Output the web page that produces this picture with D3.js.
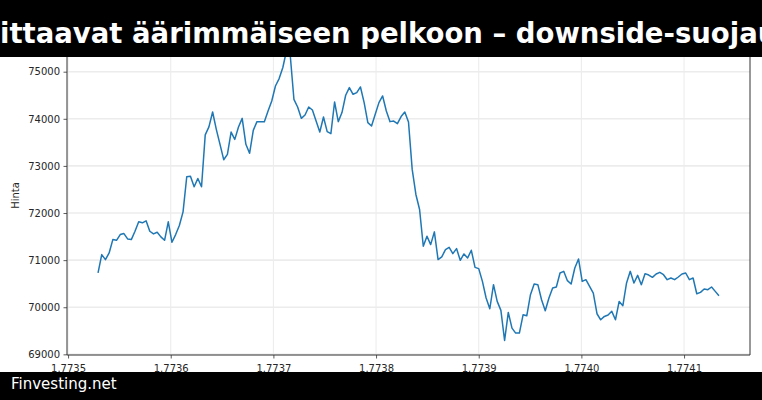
<!DOCTYPE html>
<html><head><meta charset="utf-8">
<script src="https://cdn.jsdelivr.net/npm/d3@7/dist/d3.min.js"></script>
<style>
body{margin:0;background:#fff;}
svg{display:block;font-family:"DejaVu Sans",sans-serif;}
</style>
</head><body>
<svg id="c" width="762" height="400"></svg>
<script>
// ---- data ----
const titleText = "Optiot viittaavat äärimmäiseen pelkoon – downside-suojaus kallistuu";
const titleHiddenPrefix = "Optiot vi";
const sourceText = "Finvesting.net";
const yLabel = "Hinta";
const startTime = 1773529200;   // seconds, hourly samples
const stepSeconds = 3600;
const prices = [
  70728,71117,71010,71153,71436,71421,71543,71564,71450,71436,
  71613,71813,71792,71834,71613,71557,71591,71494,71421,71813,
  71379,71543,71734,72025,72770,72783,72557,72734,72557,73660,
  73830,74145,73777,73458,73132,73245,73719,73564,73825,74010,
  73458,73267,73755,73940,73940,73940,74165,74378,74697,74854,
  75089,75450,75350,74414,74251,74010,74081,74251,74187,73953,
  73719,74038,73727,73685,74357,73940,74132,74500,74663,74521,
  74557,74676,74344,73919,73847,74096,74344,74485,74166,73940,
  73953,73898,74047,74145,73932,72926,72394,72075,71294,71507,
  71330,71600,71011,71068,71223,71272,71138,71245,70996,71132,
  71047,71209,70847,70819,70549,70196,69968,70479,70125,69934,
  69294,69889,69557,69451,69451,69840,69819,70266,70493,70479,
  70160,69926,70196,70408,70430,70727,70762,70564,70493,70833,
  71025,70549,70585,70443,70302,69862,69734,69805,69834,69913,
  69734,70124,70033,70515,70762,70515,70677,70479,70713,70684,
  70635,70706,70741,70691,70585,70621,70585,70642,70706,70727,
  70585,70621,70287,70316,70387,70372,70430,70337,70245
];
const xTickValues = [1.7735,1.7736,1.7737,1.7738,1.7739,1.7740,1.7741];
const xTickLabels = ["1.7735","1.7736","1.7737","1.7738","1.7739","1.7740","1.7741"];
const yTickValues = [69000,70000,71000,72000,73000,74000,75000];

// ---- build ----
const points = prices.map((p,i)=>({x:(startTime + i*stepSeconds)/1e9, y:p}));
const svg = d3.select("#c");
const L=67, R=750, T=36, B=355;

const xExt = d3.extent(points,d=>d.x), xr = xExt[1]-xExt[0];
const yExt = d3.extent(points,d=>d.y), yr = yExt[1]-yExt[0];
const x = d3.scaleLinear().domain([xExt[0]-0.05*xr, xExt[1]+0.05*xr]).range([L,R]);
const y = d3.scaleLinear().domain([yExt[0]-0.05*yr, yExt[1]+0.05*yr]).range([B,T]);

svg.append("rect").attr("width",762).attr("height",400).attr("fill","#fff");

// grid
const g = svg.append("g");
g.selectAll(".gx").data(xTickValues).enter().append("line")
  .attr("x1",d=>x(d)).attr("x2",d=>x(d)).attr("y1",T).attr("y2",B)
  .attr("stroke","#e6e6e6").attr("stroke-width",0.8);
g.selectAll(".gy").data(yTickValues).enter().append("line")
  .attr("x1",L).attr("x2",R).attr("y1",d=>y(d)).attr("y2",d=>y(d))
  .attr("stroke","#ececec").attr("stroke-width",1.6);

// line
svg.append("clipPath").attr("id","clip").append("rect")
  .attr("x",L).attr("y",T).attr("width",R-L).attr("height",B-T);
svg.append("path").datum(points)
  .attr("clip-path","url(#clip)")
  .attr("fill","none").attr("stroke","#1f77b4").attr("stroke-width",1.5)
  .attr("stroke-linejoin","round")
  .attr("d",d3.line().x(d=>x(d.x)).y(d=>y(d.y)));

// axes
const xAxis = d3.axisBottom(x).tickValues(xTickValues)
  .tickFormat((d,i)=>xTickLabels[i]).tickSize(3.5).tickPadding(6).tickSizeOuter(0);
const yAxis = d3.axisLeft(y).tickValues(yTickValues)
  .tickFormat(d3.format("d")).tickSize(3.5).tickPadding(3.5).tickSizeOuter(0);
const ax = svg.append("g").attr("transform",`translate(0,${B})`).call(xAxis);
const ay = svg.append("g").attr("transform",`translate(${L},0)`).call(yAxis);
[ax,ay].forEach(a=>{
  a.select(".domain").remove();
  a.selectAll("line").attr("stroke","#333").attr("stroke-width",0.8);
  a.selectAll("text").attr("font-size","10px").attr("fill","#262626")
    .attr("font-family","DejaVu Sans");
});
// spines
svg.append("line").attr("x1",L).attr("x2",L).attr("y1",T).attr("y2",B).attr("stroke","#333").attr("stroke-width",1);
svg.append("line").attr("x1",R).attr("x2",R).attr("y1",T).attr("y2",B).attr("stroke","#333").attr("stroke-width",1);
svg.append("line").attr("x1",L).attr("x2",R).attr("y1",B).attr("y2",B).attr("stroke","#333").attr("stroke-width",1);
svg.append("line").attr("x1",L).attr("x2",R).attr("y1",T).attr("y2",T).attr("stroke","#333").attr("stroke-width",1);

svg.append("text").attr("transform",`translate(19,${(T+B)/2}) rotate(-90)`)
  .attr("text-anchor","middle").attr("font-size","10px").attr("fill","#262626").text(yLabel);

// banners
svg.append("rect").attr("x",0).attr("y",0).attr("width",762).attr("height",57).attr("fill","#000");
svg.append("rect").attr("x",0).attr("y",372).attr("width",762).attr("height",28).attr("fill","#000");

const tmp = svg.append("text").attr("font-size","27.5px").attr("font-weight","bold").text(titleHiddenPrefix);
const pw = tmp.node().getComputedTextLength(); tmp.remove();
svg.append("text").attr("x",0-pw).attr("y",43).attr("font-size","27.5px").attr("font-weight","bold")
  .attr("fill","#fff").text(titleText);

svg.append("text").attr("x",11).attr("y",389).attr("font-size","15px").attr("fill","#fff").text(sourceText);
</script>
</body></html>
